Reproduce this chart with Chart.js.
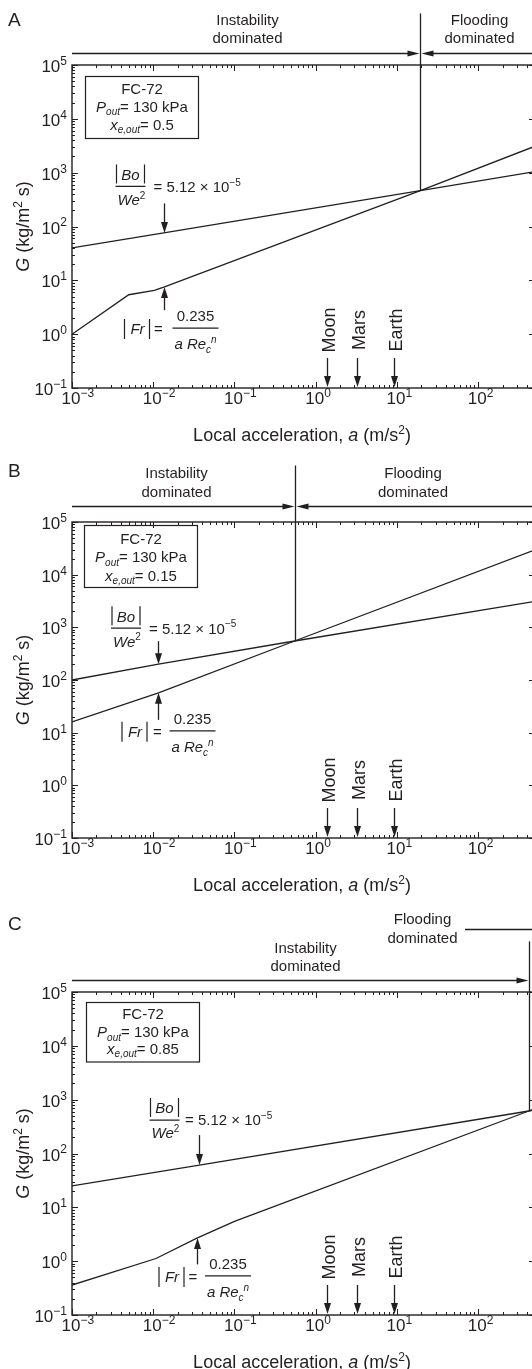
<!DOCTYPE html>
<html>
<head>
<meta charset="utf-8">
<script src="https://cdn.jsdelivr.net/npm/chart.js@4.4.1/dist/chart.umd.min.js"></script>
<style>
  html, body { margin: 0; padding: 0; background: #fff; overflow: hidden; }
  body { width: 532px; height: 1369px; position: relative; }
  canvas { position: absolute; left: 0; }
</style>
</head>
<body>
<canvas id="chartA" width="545" height="460" style="top:0"></canvas>
<canvas id="chartB" width="545" height="460" style="top:440px"></canvas>
<canvas id="chartC" width="545" height="489" style="top:880px"></canvas>
<script>
// decades shown on the axes (powers of ten)
const decadesX = [-3, -2, -1, 0, 1, 2];
const decadesY = [-1, 0, 1, 2, 3, 4, 5];
const accelMin = 1e-3, accelMax = 500;
const fluxMin = 1e-1, fluxMax = 1e5;

const panelLetters = ['A', 'B', 'C'];
const exitQuality = ['0.5', '0.15', '0.85'];
const boundaryAccel = [19.4, 0.55, 420];

// |Bo|/We^2 = 5.12e-5 and |Fr| = 0.235/(a Re_c^n) curves, G vs a
const boAccelA = [0.001, 0.0135, 19.4, 500];
const boFluxA = [40, 76, 464, 1050];
const frAccelA = [0.001, 0.005, 0.0103, 0.0135, 19.4, 500];
const frFluxA = [1.0, 5.4, 6.5, 7.5, 464, 3100];

const boAccelB = [0.001, 0.0116, 0.55, 500];
const boFluxB = [100, 200, 550, 3100];
const frAccelB = [0.001, 0.0116, 0.55, 500];
const frFluxB = [16, 57, 550, 29500];

const boAccelC = [0.001, 0.037, 420, 500];
const boFluxC = [25, 61, 616, 645];
const frAccelC = [0.001, 0.0108, 0.035, 0.1, 420, 500];
const frFluxC = [0.36, 1.12, 2.7, 5.5, 616, 680];

const boArrowAccel = [0.0135, 0.0116, 0.037];
const frArrowAccel = [0.0135, 0.0116, 0.035];

const planetNames = ['Moon', 'Mars', 'Earth'];
const planetAccel = [1.37, 3.2, 9.3];

// page layout for each panel (canvas pixels)
const layout = [
  { id: 'chartA', height: 460, top: 65, bottom: 388, letterY: 19,
    vTop: 13.5, arrowY: 53.5, instX: 247.5, instY: [19.5, 37.5], floodX: 479.5, floodY: [19.5, 37.5], leaderY: null,
    box: [85.5, 76.5, 113, 62], boxLines: [12.5, 30, 48],
    boTail: 29.5, boBar: 46.5, boFrac: -34, boEq: -11,
    frTail: 23, frBar: 42, frAbs: -27, frEq: -6, frFrac: 31,
    bo: [boAccelA, boFluxA], fr: [frAccelA, frFluxA] },
  { id: 'chartB', height: 460, top: 82, bottom: 398, letterY: 30.5,
    vTop: 25.5, arrowY: 66.5, instX: 176.5, instY: [33, 51.5], floodX: 413, floodY: [33, 51.5], leaderY: null,
    box: [84.5, 85.5, 113, 62], boxLines: [13, 31.5, 50],
    boTail: 23, boBar: 36, boFrac: -32.5, boEq: -9.5,
    frTail: 27, frBar: 39, frAbs: -23.5, frEq: -1, frFrac: 34,
    bo: [boAccelB, boFluxB], fr: [frAccelB, frFluxB] },
  { id: 'chartC', height: 489, top: 112, bottom: 435, letterY: 43,
    vTop: 61.5, arrowY: 100.5, instX: 305.5, instY: [68, 86], floodX: 422.5, floodY: [38.5, 57.5], leaderY: 49.5,
    box: [86.5, 122.5, 113, 59.5], boxLines: [11.5, 29.5, 46],
    boTail: 30, boBar: 45, boFrac: -35, boEq: -14.5,
    frTail: 26.5, frBar: 39, frAbs: -25.5, frEq: -4.5, frFrac: 30.5,
    bo: [boAccelC, boFluxC], fr: [frAccelC, frFluxC] }
];

const FONT = '"Liberation Sans", Arial, Helvetica, sans-serif';
const INK = '#231f20';
const VISIBLE_RIGHT = 532;

function fluxAt(accel, flux, a) {
  const la = Math.log10(a);
  for (let i = 0; i < accel.length - 1; i++) {
    const l0 = Math.log10(accel[i]), l1 = Math.log10(accel[i + 1]);
    if (la >= l0 && la <= l1) {
      const t = (la - l0) / (l1 - l0);
      return 10 ** (Math.log10(flux[i]) + t * (Math.log10(flux[i + 1]) - Math.log10(flux[i])));
    }
  }
  return flux[flux.length - 1];
}

// rich text: segments [text, kind], kind '' | 'i' | 'sup' | 'isub' | 'isup'
function segFont(kind, size) {
  const small = kind === 'sup' || kind === 'isub' || kind === 'isup';
  const italic = kind.charAt(0) === 'i';
  return (italic ? 'italic ' : '') + (small ? Math.round(size * 0.68) : size) + 'px ' + FONT;
}
function richWidth(ctx, segs, size) {
  let w = 0;
  segs.forEach(([t, k]) => { ctx.font = segFont(k, size); w += ctx.measureText(t).width; });
  return w;
}
function drawRich(ctx, segs, x, y, size, align) {
  const w = richWidth(ctx, segs, size);
  let cx = align === 'center' ? x - w / 2 : align === 'right' ? x - w : x;
  const base = y + size * 0.36;
  ctx.textAlign = 'left';
  ctx.textBaseline = 'alphabetic';
  segs.forEach(([t, k]) => {
    ctx.font = segFont(k, size);
    let b = base;
    if (k === 'sup' || k === 'isup') b = base - size * 0.42;
    if (k === 'isub') b = base + size * 0.22;
    ctx.fillText(t, cx, b);
    cx += ctx.measureText(t).width;
  });
  return w;
}

function arrowHead(ctx, x, y, dir, len, half) {
  ctx.beginPath();
  ctx.moveTo(x, y);
  if (dir === 'down') { ctx.lineTo(x - half, y - len); ctx.lineTo(x + half, y - len); }
  if (dir === 'up') { ctx.lineTo(x - half, y + len); ctx.lineTo(x + half, y + len); }
  if (dir === 'right') { ctx.lineTo(x - len, y - half); ctx.lineTo(x - len, y + half); }
  if (dir === 'left') { ctx.lineTo(x + len, y - half); ctx.lineTo(x + len, y + half); }
  ctx.closePath();
  ctx.fill();
}

function vArrow(ctx, x, y0, y1) {
  // shaft from y0 to tip at y1
  const dir = y1 > y0 ? 'down' : 'up';
  ctx.lineWidth = 1.3;
  ctx.beginPath();
  ctx.moveTo(x, y0);
  ctx.lineTo(x, y1 + (dir === 'down' ? -6 : 6));
  ctx.stroke();
  arrowHead(ctx, x, y1, dir, 11, 3.5);
}

function expLabel(e) {
  return String(e).replace('-', '\u2212');
}

function drawAxes(ctx, ca, xs, ys) {
  ctx.lineWidth = 1.4;
  ctx.strokeRect(ca.left, ca.top, ca.right - ca.left, ca.bottom - ca.top);
  ctx.lineWidth = 1;
  ctx.beginPath();
  decadesX.forEach(e => {
    for (let m = 1; m < 10; m++) {
      const v = m * 10 ** e;
      if (v > accelMax) break;
      const px = Math.round(xs.getPixelForValue(v)) + 0.5;
      const len = m === 1 ? 6 : 3;
      ctx.moveTo(px, ca.bottom); ctx.lineTo(px, ca.bottom - len);
      ctx.moveTo(px, ca.top); ctx.lineTo(px, ca.top + len);
    }
  });
  decadesY.forEach(e => {
    for (let m = 1; m < 10; m++) {
      const v = m * 10 ** e;
      if (v > fluxMax) break;
      const py = Math.round(ys.getPixelForValue(v)) + 0.5;
      const len = m === 1 ? 6 : 3;
      ctx.moveTo(ca.left, py); ctx.lineTo(ca.left + len, py);
      ctx.moveTo(ca.right, py); ctx.lineTo(ca.right - len, py);
    }
  });
  ctx.stroke();

  // tick labels
  decadesX.forEach(e => {
    const px = xs.getPixelForValue(10 ** e);
    ctx.font = segFont('', 17);
    const w10 = ctx.measureText('10').width;
    drawRich(ctx, [['10', ''], [expLabel(e), 'sup']], px - w10 / 2 - 1, ca.bottom + 10, 17, 'left');
  });
  decadesY.forEach(e => {
    const py = ys.getPixelForValue(10 ** e);
    drawRich(ctx, [['10', ''], [expLabel(e), 'sup']], ca.left - 5, py + 1, 17, 'right');
  });
}

function makePlugin(i) {
  const p = layout[i];
  return {
    id: 'figure' + panelLetters[i],
    afterDraw(chart) {
      const ctx = chart.ctx;
      const ca = chart.chartArea;
      const xs = chart.scales.x, ys = chart.scales.y;
      ctx.save();
      ctx.fillStyle = INK;
      ctx.strokeStyle = INK;

      drawAxes(ctx, ca, xs, ys);

      // axis titles
      drawRich(ctx, [['Local acceleration, ', ''], ['a', 'i'], [' (m/s', ''], ['2', 'sup'], [')', '']],
        302, ca.bottom + 47, 18, 'center');
      ctx.save();
      ctx.translate(23, (ca.top + ca.bottom) / 2);
      ctx.rotate(-Math.PI / 2);
      drawRich(ctx, [['G', 'i'], [' (kg/m', ''], ['2', 'sup'], [' s)', '']], 0, 0, 18, 'center');
      ctx.restore();

      // panel letter
      drawRich(ctx, [[panelLetters[i], '']], 8, p.letterY, 19, 'left');

      // regime boundary and headers
      const bx = Math.round(xs.getPixelForValue(boundaryAccel[i])) + 0.5;
      const by = ys.getPixelForValue(fluxAt(p.bo[0], p.bo[1], boundaryAccel[i]));
      ctx.lineWidth = 1.3;
      ctx.beginPath();
      ctx.moveTo(bx, p.vTop); ctx.lineTo(bx, by);
      ctx.moveTo(ca.left, p.arrowY); ctx.lineTo(bx - 8, p.arrowY);
      if (p.leaderY === null) {
        ctx.moveTo(bx + 8, p.arrowY); ctx.lineTo(VISIBLE_RIGHT, p.arrowY);
      } else {
        ctx.moveTo(465, p.leaderY); ctx.lineTo(VISIBLE_RIGHT, p.leaderY);
      }
      ctx.stroke();
      arrowHead(ctx, bx - 1, p.arrowY, 'right', 12, 3);
      if (p.leaderY === null) arrowHead(ctx, bx + 1, p.arrowY, 'left', 12, 3);

      drawRich(ctx, [['Instability', '']], p.instX, p.instY[0], 15, 'center');
      drawRich(ctx, [['dominated', '']], p.instX, p.instY[1], 15, 'center');
      drawRich(ctx, [['Flooding', '']], p.floodX, p.floodY[0], 15, 'center');
      drawRich(ctx, [['dominated', '']], p.floodX, p.floodY[1], 15, 'center');

      // condition box
      const [bxl, byt, bw, bh] = p.box;
      ctx.lineWidth = 1.2;
      ctx.strokeRect(bxl, byt, bw, bh);
      const cxb = bxl + bw / 2;
      drawRich(ctx, [['FC-72', '']], cxb, byt + p.boxLines[0], 15, 'center');
      drawRich(ctx, [['P', 'i'], ['out', 'isub'], ['= 130 kPa', '']], cxb, byt + p.boxLines[1], 15, 'center');
      drawRich(ctx, [['x', 'i'], ['e,out', 'isub'], ['= ' + exitQuality[i], '']], cxb, byt + p.boxLines[2], 15, 'center');

      // Bond / Weber label
      const ax = Math.round(xs.getPixelForValue(boArrowAccel[i])) + 0.5;
      const ay = ys.getPixelForValue(fluxAt(p.bo[0], p.bo[1], boArrowAccel[i]));
      vArrow(ctx, ax, ay - p.boTail, ay);
      const barY = ay - p.boBar;
      const fcx = ax + p.boFrac;
      ctx.lineWidth = 1.2;
      ctx.beginPath();
      ctx.moveTo(fcx - 15, barY); ctx.lineTo(fcx + 15, barY);
      ctx.moveTo(fcx - 14, barY - 22); ctx.lineTo(fcx - 14, barY - 3);
      ctx.moveTo(fcx + 14, barY - 22); ctx.lineTo(fcx + 14, barY - 3);
      ctx.stroke();
      drawRich(ctx, [['Bo', 'i']], fcx, barY - 12, 15, 'center');
      drawRich(ctx, [['We', 'i'], ['2', 'sup']], fcx + 1, barY + 13, 15, 'center');
      drawRich(ctx, [['= 5.12 \u00d7 10', ''], ['\u22125', 'sup']], ax + p.boEq, barY, 15, 'left');

      // Froude label
      const fx = Math.round(xs.getPixelForValue(frArrowAccel[i])) + 0.5;
      const fy = ys.getPixelForValue(fluxAt(p.fr[0], p.fr[1], frArrowAccel[i]));
      vArrow(ctx, fx, fy + p.frTail, fy);
      const ly = fy + p.frBar;
      const ac = fx + p.frAbs, fc = fx + p.frFrac;
      ctx.lineWidth = 1.2;
      ctx.beginPath();
      ctx.moveTo(ac - 13, ly - 10); ctx.lineTo(ac - 13, ly + 10);
      ctx.moveTo(ac + 12, ly - 10); ctx.lineTo(ac + 12, ly + 10);
      ctx.moveTo(fc - 23, ly - 1); ctx.lineTo(fc + 23, ly - 1);
      ctx.stroke();
      drawRich(ctx, [['Fr', 'i']], ac, ly, 15, 'center');
      drawRich(ctx, [['=', '']], fx + p.frEq, ly, 15, 'center');
      drawRich(ctx, [['0.235', '']], fc, ly - 13, 15, 'center');
      drawRich(ctx, [['a Re', 'i'], ['c', 'isub'], ['n', 'isup']], fc, ly + 15, 15, 'center');

      // gravity levels
      planetNames.forEach((name, k) => {
        const px = Math.round(xs.getPixelForValue(planetAccel[k])) + 0.5;
        vArrow(ctx, px, ca.bottom - 30, ca.bottom - 1);
        ctx.save();
        ctx.translate(px + 1, ca.bottom - 58);
        ctx.rotate(-Math.PI / 2);
        drawRich(ctx, [[name, '']], 0, 0, 18, 'center');
        ctx.restore();
      });

      ctx.restore();
    }
  };
}

function toPoints(accel, flux) {
  return accel.map((a, k) => ({ x: a, y: flux[k] }));
}

layout.forEach((p, i) => {
  new Chart(document.getElementById(p.id), {
    type: 'scatter',
    data: {
      datasets: [
        { label: '|Bo|/We2', data: toPoints(p.bo[0], p.bo[1]), showLine: true,
          borderColor: INK, borderWidth: 1.3, pointRadius: 0, tension: 0 },
        { label: '|Fr|', data: toPoints(p.fr[0], p.fr[1]), showLine: true,
          borderColor: INK, borderWidth: 1.3, pointRadius: 0, tension: 0 }
      ]
    },
    options: {
      responsive: false,
      animation: false,
      events: [],
      layout: { padding: { left: 72, right: 10, top: p.top, bottom: p.height - p.bottom } },
      plugins: { legend: { display: false }, tooltip: { enabled: false } },
      scales: {
        x: { type: 'logarithmic', min: accelMin, max: accelMax, display: false },
        y: { type: 'logarithmic', min: fluxMin, max: fluxMax, display: false }
      }
    },
    plugins: [makePlugin(i)]
  });
});
</script>
</body>
</html>
